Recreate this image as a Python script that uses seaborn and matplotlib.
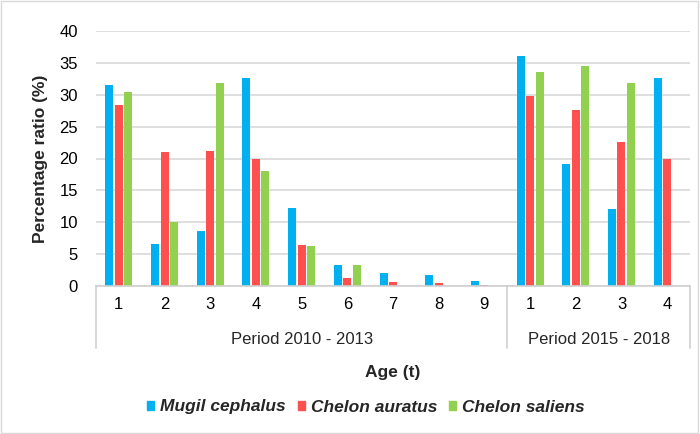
import matplotlib
matplotlib.use("Agg")
import matplotlib.pyplot as plt
import seaborn as sns
import pandas as pd
import numpy as np
from matplotlib.patches import Rectangle
from matplotlib.lines import Line2D

sns.set_theme(style="white")
plt.rcParams['font.family'] = ['Liberation Sans', 'DejaVu Sans']

periods = ["Period 2010 - 2013", "Period 2015 - 2018"]
ages_p1 = ["1", "2", "3", "4", "5", "6", "7", "8", "9"]
ages_p2 = ["1", "2", "3", "4"]
species = ["Mugil cephalus", "Chelon auratus", "Chelon saliens"]
colors = ["#00B0F0", "#FF5050", "#92D050"]

mugil_cephalus = [31.5, 6.6, 8.7, 32.7, 12.2, 3.3, 2.0, 1.7, 0.85, 36.1, 19.2, 12.1, 32.7]
chelon_auratus = [28.4, 21.0, 21.2, 19.9, 6.4, 1.3, 0.6, 0.4, 0.15, 29.8, 27.6, 22.6, 19.9]
chelon_saliens = [30.4, 10.0, 31.8, 18.1, 6.2, 3.3, np.nan, np.nan, np.nan, 33.6, 34.5, 31.9, np.nan]

age_labels = ages_p1 + ages_p2
cat_keys = [f"p1_{a}" for a in ages_p1] + [f"p2_{a}" for a in ages_p2]

rows = []
for sp, vals in zip(species, [mugil_cephalus, chelon_auratus, chelon_saliens]):
    for k, v in zip(cat_keys, vals):
        rows.append({"cat": k, "species": sp, "value": v})
df = pd.DataFrame(rows)

fig = plt.figure(figsize=(7.0, 4.34), dpi=100)
ax = fig.add_axes([96/700, 1-286/434, (690-96)/700, (286-31)/434])

sns.barplot(data=df, x="cat", y="value", hue="species", order=cat_keys,
            hue_order=species, palette=colors, width=0.62, gap=0.15,
            ax=ax, legend=False, saturation=1, edgecolor="none")

ax.set_ylim(0, 40)
ax.set_xlim(-0.5, len(cat_keys) - 0.5)
ax.set_yticks(range(0, 41, 5))
ax.yaxis.grid(True, color="#d9d9d9", linewidth=1.2)
ax.set_axisbelow(True)
for s in ["left", "right", "top"]:
    ax.spines[s].set_visible(False)
ax.spines["bottom"].set_color("#d0d0d0")
ax.spines["bottom"].set_linewidth(1.2)
ax.tick_params(axis="both", length=0, labelsize=12, colors="black")
ax.tick_params(axis="y", pad=13)
ax.set_xticks(range(len(cat_keys)))
ax.set_xticklabels(age_labels)
ax.tick_params(axis="x", pad=8)
ax.set_xlabel("")
ax.set_ylabel("Percentage ratio (%)", fontsize=12.5, fontweight="bold", labelpad=8)

# multi-level axis separators
trans = ax.get_xaxis_transform()
bottom_frac = -(348 - 286) / (286 - 31)
for xpos in [-0.5, len(ages_p1) - 0.5, len(cat_keys) - 0.5]:
    ax.add_line(Line2D([xpos, xpos], [0, bottom_frac], transform=trans,
                       color="#d0d0d0", linewidth=1.2, clip_on=False))
lab_y = -(339 - 286) / (286 - 31)
ax.text((len(ages_p1) - 1) / 2, lab_y, periods[0], transform=trans,
        ha="center", va="center", fontsize=12)
ax.text(len(ages_p1) + (len(ages_p2) - 1) / 2, lab_y, periods[1], transform=trans,
        ha="center", va="center", fontsize=12)

fig.text(393/700, 1 - 373/434, "Age (t)", ha="center", va="center",
         fontsize=12.5, fontweight="bold")

handles = [Rectangle((0, 0), 1, 1, color=c) for c in colors]
leg = fig.legend(handles, species, loc="center", bbox_to_anchor=(366/700, 1 - 407/434),
                 ncol=3, frameon=False, handlelength=0.4, handleheight=0.4,
                 handletextpad=0.35, columnspacing=0.7,
                 prop={"style": "italic", "weight": "bold", "size": 12.5})

fig.add_artist(Rectangle((0.002, 0.003), 0.995, 0.994, transform=fig.transFigure,
                         fill=False, edgecolor="#d9d9d9", linewidth=1))

fig.savefig("out.png", dpi=100)
